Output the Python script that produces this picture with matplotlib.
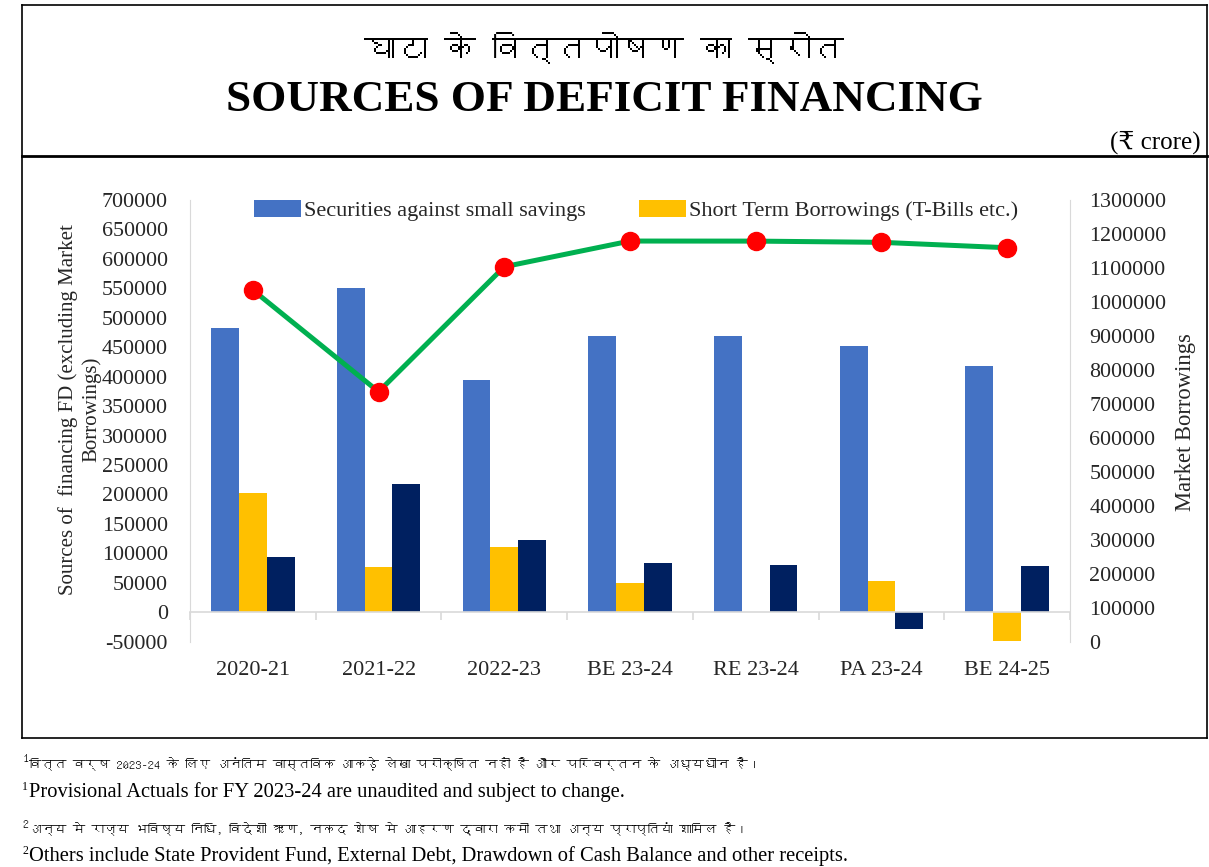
import matplotlib
matplotlib.use("Agg")
import matplotlib.pyplot as plt
from matplotlib import font_manager
from matplotlib.lines import Line2D
from matplotlib.patches import Patch
import numpy as np

# ---------------- data ----------------
categories = ["2020-21", "2021-22", "2022-23", "BE 23-24", "RE 23-24", "PA 23-24", "BE 24-25"]
small_savings = [482700, 551000, 394700, 469700, 469700, 451400, 418600]
short_term = [202700, 76700, 110700, 49400, 0, 52300, -49400]
others = [93700, 217500, 123300, 83500, 80700, -28300, 78400]
market_borrowings = [1035000, 735700, 1103600, 1179200, 1179000, 1175400, 1159500]

left_ticks = list(range(-50000, 700001, 50000))
right_ticks = list(range(0, 1300001, 100000))

legend_labels = ["Securities against small savings", "Short Term Borrowings (T-Bills etc.)"]
left_label = "Sources of  financing FD (excluding Market\nBorrowings)"
right_label = "Market Borrowings"
title_hi = "घाटा के वित्तपोषण का स्रोत"
title_en = "SOURCES OF DEFICIT FINANCING"
unit_text = "(₹ crore)"
foot_hi_1 = "वित्त वर्ष 2023-24 के लिए अनंतिम वास्तविक आकड़े लेखा परीक्षित नहीं है और परिवर्तन के अध्यधीन है।"
foot_en_1 = "Provisional Actuals for FY 2023-24 are unaudited and subject to change."
foot_hi_2 = "अन्य मे राज्य भविष्य निधि, विदेशी ऋण, नकद शेष मे आहरण द्वारा कमी तथा अन्य प्राप्तियां शामिल है।"
foot_en_2 = "Others include State Provident Fund, External Debt, Drawdown of Cash Balance and other receipts."

# ---------------- fonts ----------------
def find_family(codepoint):
    from matplotlib.ft2font import FT2Font
    seen = set()
    for f in font_manager.fontManager.ttflist:
        if f.fname in seen:
            continue
        seen.add(f.fname)
        try:
            if codepoint in FT2Font(f.fname).get_charmap():
                return f.name
        except Exception:
            pass
    return None

deva = find_family(0x0918)
serif = ["Liberation Serif", "DejaVu Serif"]
hindi_fam = ([deva] if deva else []) + ["Liberation Sans", "DejaVu Sans"]
plt.rcParams["font.family"] = serif

W, H = 1209, 867
def fx(p): return p / W
def fy(p): return 1 - p / H

fig = plt.figure(figsize=(W / 100, H / 100), dpi=100)
fig.patch.set_facecolor("white")

# axes at pixel box x 190..1070, y 200..641.7
ax = fig.add_axes([fx(190), fy(641.7), fx(1070) - fx(190), fy(200) - fy(641.7)])
ax2 = ax.twinx()

x = np.arange(len(categories))
bw = 0.221
c_blue, c_yel, c_navy = "#4472c4", "#ffc000", "#002060"
ax.bar(x - bw, small_savings, bw, color=c_blue, zorder=2)
ax.bar(x, short_term, bw, color=c_yel, zorder=2)
ax.bar(x + bw, others, bw, color=c_navy, zorder=2)

ax.set_xlim(-0.5, len(categories) - 0.5)
ax.set_ylim(-50000, 700000)
ax.set_yticks(left_ticks)
ax.set_yticklabels([str(v) for v in left_ticks])

grey = "#d9d9d9"
txt = "#262626"
for s in ["top", "right"]:
    ax.spines[s].set_visible(False)
ax.spines["left"].set_color(grey)
ax.spines["bottom"].set_position(("data", 0))
ax.spines["bottom"].set_color(grey)
ax.spines["bottom"].set_linewidth(1.2)

ax.set_xticks(x)
ax.set_xticklabels(categories, fontsize=16, color=txt)
ax.tick_params(axis="x", which="major", length=0, pad=35)
ax.set_xticks(np.arange(len(categories) + 1) - 0.5, minor=True)
ax.tick_params(axis="x", which="minor", length=6, width=1.2, color=grey, direction="out")
ax.tick_params(axis="y", length=0, pad=16, labelsize=15.8, labelcolor=txt)

ax.set_ylabel(left_label, fontsize=15, color=txt, multialignment="center", linespacing=1.25)
ax.yaxis.label.set_va("center")
ax.yaxis.set_label_coords((80 - 190) / 880, 0.525)

ax2.plot(x, market_borrowings, color="#00b050", lw=3.6, marker="o", markersize=13,
         markerfacecolor="#ff0000", markeredgecolor="#ff0000", zorder=3)
ax2.set_ylim(0, 1300000)
ax2.set_yticks(right_ticks)
ax2.set_yticklabels([str(v) for v in right_ticks])
for s in ["top", "left", "bottom"]:
    ax2.spines[s].set_visible(False)
ax2.spines["right"].set_color(grey)
ax2.tick_params(axis="y", length=0, pad=14, labelsize=15.8, labelcolor=txt)
ax2.set_ylabel(right_label, fontsize=16.3, color=txt, rotation=90)
ax2.yaxis.label.set_va("center")
ax2.yaxis.set_label_coords((1186 - 190) / 880, 0.498)

handles = [Patch(facecolor=c_blue), Patch(facecolor=c_yel)]
ax.legend(handles, legend_labels, loc="upper center", bbox_to_anchor=(0.507, 1.045), ncol=2,
          frameon=False, fontsize=16, handlelength=2.1, handleheight=0.8,
          columnspacing=2.4, handletextpad=0.15, labelcolor=txt)

# ---------------- titles ----------------
fig.text(0.5, fy(48), title_hi, ha="center", va="center", fontsize=23, family=hindi_fam, color="black")
fig.text(0.5, fy(100), title_en, ha="center", va="center", fontsize=32.5, weight="bold", color="black")
fig.text(fx(1201), fy(142), unit_text, ha="right", va="center", fontsize=18,
         family=["Liberation Serif", "DejaVu Serif", "DejaVu Sans"], color="black")

# ---------------- frame ----------------
def fline(x0, y0, x1, y1, lw=1.2):
    fig.add_artist(Line2D([fx(x0), fx(x1)], [fy(y0), fy(y1)], color="black", lw=lw))

fline(22, 5, 1207, 5)
fline(22, 5, 22, 738)
fline(1207, 5, 1207, 738)
fline(22, 156, 1207, 156, lw=2)
fline(22, 738, 1207, 738)

# ---------------- footnotes ----------------
def foot(ypix, sup, text, fam, size):
    fig.text(fx(22), fy(ypix - 5), sup, ha="left", va="center", fontsize=8.5, family=fam)
    fig.text(fx(29), fy(ypix), text, ha="left", va="center", fontsize=size, family=fam)

foot(764, "1", foot_hi_1, hindi_fam, 9)
foot(792, "1", foot_en_1, serif, 14.8)
foot(829, "2", foot_hi_2, hindi_fam, 9)
foot(856, "2", foot_en_2, serif, 14.8)

fig.savefig("out.png", dpi=100)
